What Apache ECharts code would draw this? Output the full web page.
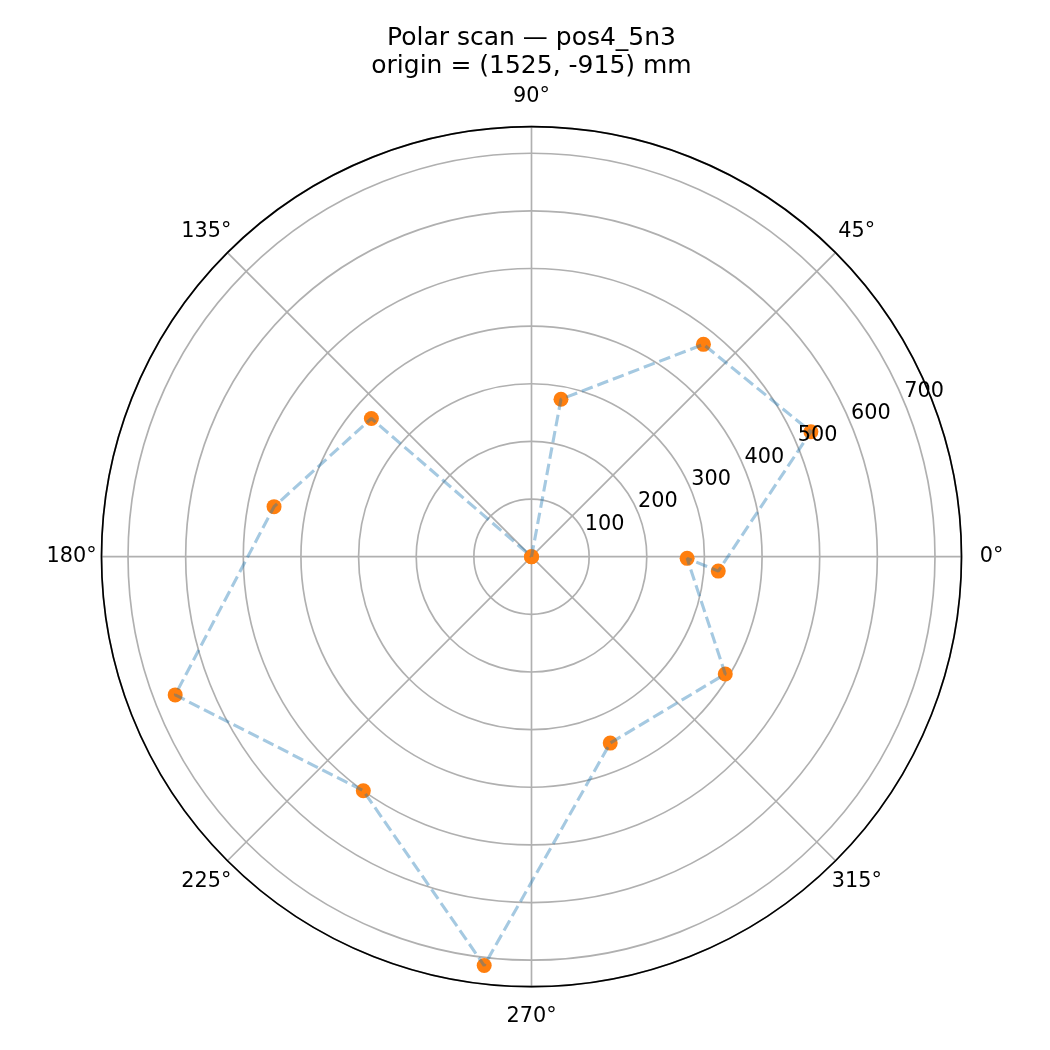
<!DOCTYPE html>
<html>
<head>
<meta charset="utf-8">
<script src="https://cdn.jsdelivr.net/npm/echarts@6/dist/echarts.min.js"></script>
<style>html,body{margin:0;padding:0;background:#fff}#c{width:1050px;height:1050px}</style>
</head>
<body>
<div id="c"></div>
<script>
// Data
const titleLines = ['Polar scan \u2014 pos4_5n3', 'origin = (1525, -915) mm'];
const thetaDeg = [0, 79.4, 51.0, 24.1, 355.6, 359.4, 328.8, 292.9, 263.4, 234.3, 201.2, 169.0, 139.2, 0];
const radiusMm = [0, 278, 474, 531, 325, 270, 393, 351, 714, 500, 663, 455, 367, 0];
const thetaTicks = [0, 45, 90, 135, 180, 225, 270, 315];
const thetaTickLabels = ['0\u00b0', '45\u00b0', '90\u00b0', '135\u00b0', '180\u00b0', '225\u00b0', '270\u00b0', '315\u00b0'];
const rMax = 746;
const rTickStep = 100;
const thetaTickStep = 45;

const pts = radiusMm.map((r, i) => [r, thetaDeg[i]]);
const FONT = 'DejaVu Sans';
const GRID = '#b0b0b0';
const center = [531.5, 556.7];
const radius = 430;
const thetaLabelPad = 30;

const chart = echarts.init(document.getElementById('c'), null, {renderer: 'canvas'});
chart.setOption({
  animation: false,
  backgroundColor: '#fff',
  polar: [
    {center: center, radius: radius},
    {center: center, radius: radius}
  ],
  angleAxis: [
    {
      polarIndex: 0, type: 'value', min: 0, max: 360, interval: thetaTickStep,
      startAngle: 0, clockwise: false, z: 1,
      axisLine: {show: true, lineStyle: {color: '#000', width: 1.67}},
      axisTick: {show: false},
      axisLabel: {show: false},
      splitLine: {show: true, lineStyle: {color: GRID, width: 1.67}}
    },
    {
      polarIndex: 1, type: 'value', min: 0, max: 360, startAngle: 22.5, clockwise: false,
      show: false
    }
  ],
  radiusAxis: [
    {
      polarIndex: 0, type: 'value', min: 0, max: rMax, interval: rTickStep, z: 0,
      axisLine: {show: false}, axisTick: {show: false}, axisLabel: {show: false},
      splitLine: {show: true, lineStyle: {color: GRID, width: 1.67}}
    },
    {
      polarIndex: 1, type: 'value', min: 0, max: rMax, interval: rTickStep, z: 4,
      axisLine: {show: false}, axisTick: {show: false}, splitLine: {show: false},
      axisLabel: {
        show: true, margin: 0, align: 'left', verticalAlign: 'bottom', lineHeight: 21,
        fontFamily: FONT, fontSize: 20.8, color: '#000',
        formatter: v => (v > 0 && v % rTickStep === 0 ? String(v) : '')
      }
    }
  ],
  series: [
    {
      type: 'scatter', coordinateSystem: 'polar', polarIndex: 0, z: 2,
      data: pts, symbol: 'circle', symbolSize: 15,
      itemStyle: {color: '#ff7f0e', opacity: 1}, silent: true
    },
    {
      type: 'line', coordinateSystem: 'polar', polarIndex: 0, z: 3,
      data: pts, showSymbol: false, symbol: 'none', smooth: false,
      lineStyle: {color: '#1f77b4', opacity: 0.4, width: 3.1, type: [11.6, 5.0]},
      silent: true
    }
  ]
});

// Angle tick labels centred just outside the frame, placed through the polar coordinate system
const rLabel = rMax * (radius + thetaLabelPad) / radius;
const graphics = thetaTicks.map((a, i) => {
  const p = chart.convertToPixel({polarIndex: 0}, [rLabel, a]);
  return {
    type: 'text', x: p[0], y: p[1], silent: true, z: 10,
    style: {text: thetaTickLabels[i], align: 'center', verticalAlign: 'middle',
            font: '20.8px "' + FONT + '"', fill: '#000'}
  };
});
graphics.push({
  type: 'text', x: center[0], y: 24.6, silent: true, z: 10,
  style: {text: titleLines.join('\n'), align: 'center', verticalAlign: 'top',
          font: '25px "' + FONT + '"', lineHeight: 28, fill: '#000'}
});
chart.setOption({graphic: graphics});
</script>
</body>
</html>
